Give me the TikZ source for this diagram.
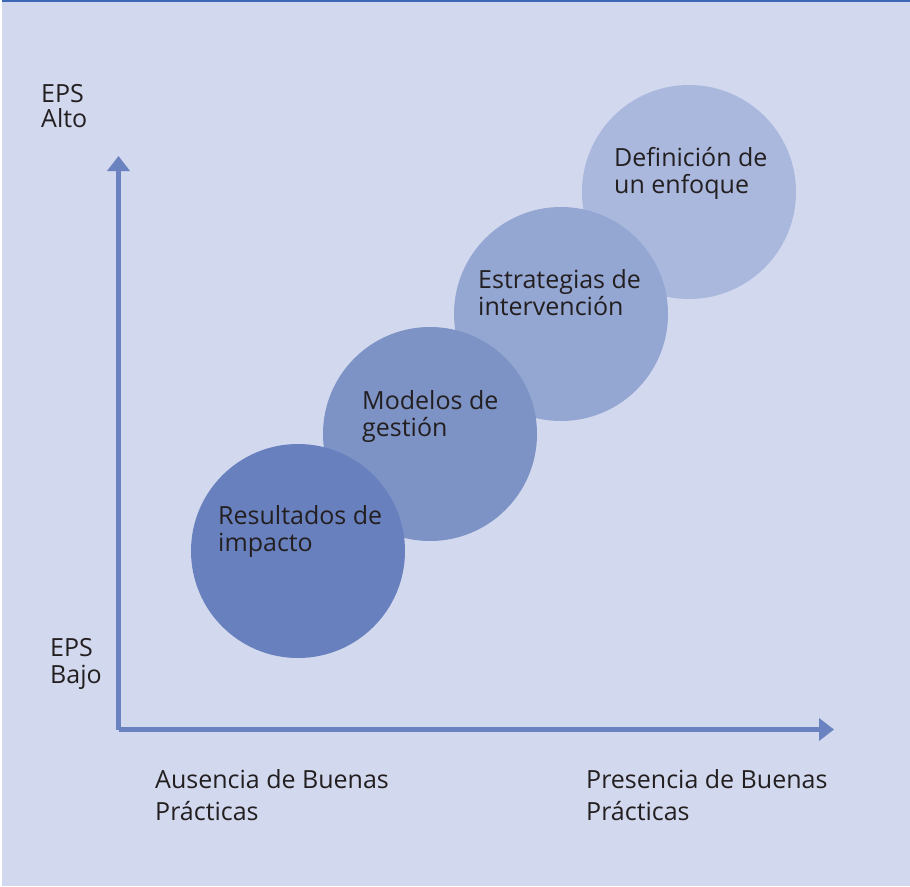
\documentclass[tikz,border=0pt]{standalone}
\usepackage{fontspec}
\setmainfont{Open Sans}
\usetikzlibrary{arrows.meta}
\definecolor{bg}{HTML}{D2D8ED}
\definecolor{topline}{HTML}{3D68B5}
\definecolor{axis}{HTML}{6A82BF}
\definecolor{cA}{HTML}{6881BE}
\definecolor{cB}{HTML}{7D93C6}
\definecolor{cC}{HTML}{94A6D2}
\definecolor{cD}{HTML}{AAB8DD}
\definecolor{ink}{HTML}{231F20}
\tikzset{
  bubble/.style={circle, minimum size=214pt, inner sep=0pt, draw=none},
  lbl/.style={anchor=north west, inner sep=0pt, align=left, text=ink,
    font=\fontsize{25}{27}\selectfont},
  axisline/.style={draw=axis, line width=5pt, -{Triangle[length=15pt,width=22pt]}}
}
\begin{document}
\begin{tikzpicture}[x=1pt,y=-1pt]
\useasboundingbox (0,0) rectangle (910,886);
\fill[white] (0,0) rectangle (910,886);
\fill[bg] (2,0) rectangle (910,886);
\fill[topline] (2,0) rectangle (910,2);
% circles
\node[bubble, fill=cD] (d) at (689,192) {};
\node[bubble, fill=cC] (c) at (561,314) {};
\node[bubble, fill=cB] (b) at (430,434) {};
\node[bubble, fill=cA] (a) at (298,551) {};
% axes
\coordinate (o) at (118.5,729.5);
\coordinate (ytip) at (118.5,156);
\coordinate (xtip) at (834,729.5);
\draw[axisline] (o) -- (ytip);
\draw[axisline] (o) -- (xtip);
% texts
\node[lbl] (ta) at (218,505) {Resultados de\\impacto};
\node[lbl] (tb) at (362,390) {Modelos de\\gestión};
\node[lbl] (tc) at (478,269) {Estrategias de\\intervención};
\node[lbl] (td) at (614,147) {Definición de\\un enfoque};
\node[lbl, font=\fontsize{25}{25}\selectfont] (alto) at (41,84) {EPS\\Alto};
\node[lbl] (bajo) at (50,638) {EPS\\Bajo};
\node[lbl, font=\fontsize{25}{32}\selectfont] (aus) at (155,769) {Ausencia de Buenas\\Prácticas};
\node[lbl, font=\fontsize{25}{32}\selectfont] (pres) at (586,769) {Presencia de Buenas\\Prácticas};
\end{tikzpicture}
\end{document}
